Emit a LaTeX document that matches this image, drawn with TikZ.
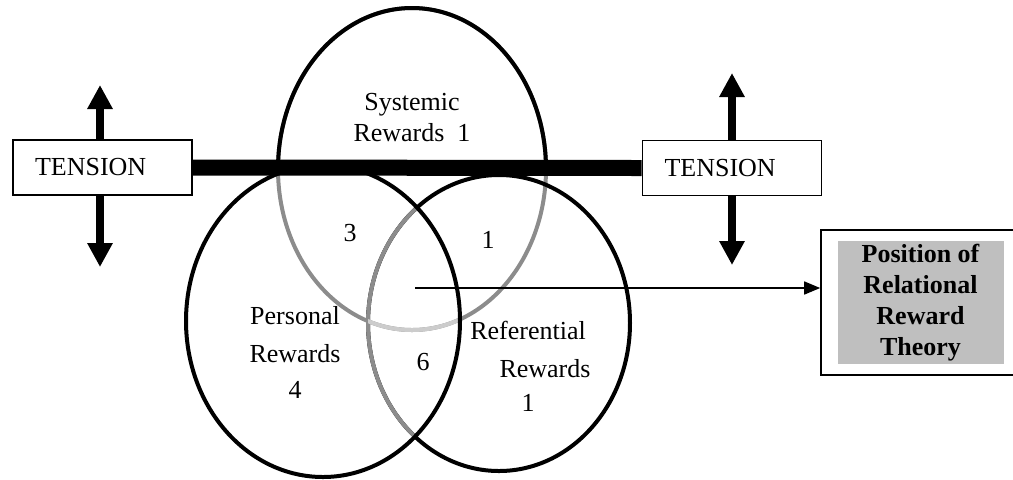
\documentclass[tikz,border=0pt]{standalone}
\usepackage{fontspec}
\setmainfont{Liberation Serif}
\usetikzlibrary{arrows.meta}

\begin{document}
\begin{tikzpicture}[x=0.5pt,y=-0.5pt,
  ring/.style={line width=2pt},
  txt/.style={font=\fontsize{13}{15}\selectfont, inner sep=0pt},
  tensionbox/.style={draw, line width=0.8pt, fill=white,
    font=\fontsize{13}{15}\selectfont, minimum height=27.5pt,
    text width=67.5pt, inner xsep=11pt, inner ysep=0pt, align=left},
  pull/.style={line width=4pt, -{Triangle[length=12pt,width=12pt]}},
  pointer/.style={line width=0.75pt, -{Triangle[length=8pt,width=6.5pt]}}]
\useasboundingbox (0,0) rectangle (1013,479);

% ellipse outlines
\def\sysE{(412,169) ellipse [x radius=134, y radius=161]}
\def\perE{(323,321) ellipse [x radius=137, y radius=156]}
\def\refE{(499,323) ellipse [x radius=131, y radius=148]}

% systemic rewards: grey below the bar, black above
\draw[ring, gray!90] \sysE;
\begin{scope}
  \clip (0,0) rectangle (1013,173);
  \draw[ring] \sysE;
\end{scope}

% referential rewards: grey where it lies inside the personal ellipse
\draw[ring] \refE;
\begin{scope}
  \clip \perE;
  \draw[ring, gray!90] \refE;
\end{scope}

% lighter stretch of the systemic arc in the personal/referential overlap
\begin{scope}
  \clip \perE;
  \clip \refE;
  \draw[ring, gray!40] \sysE;
\end{scope}

% personal rewards
\draw[ring] \perE;

% tension boxes joined by the heavy bar
\node[tensionbox] (tl) at (102.5,167.5) {TENSION};
\node[tensionbox] (tr) at (732,168) {TENSION};
\draw[line width=8pt] (tl.east) -- (tr.west);

\coordinate (tlup) at (100,85);
\coordinate (tldn) at (100,267);
\coordinate (trup) at (732,73);
\coordinate (trdn) at (732,265);
\draw[pull] (tl.north -| tlup) -- (tlup);
\draw[pull] (tl.south -| tldn) -- (tldn);
\draw[pull] (tr.north -| trup) -- (trup);
\draw[pull] (tr.south -| trdn) -- (trdn);

% region labels
\node[txt] (sys1) at (412,105) {Systemic};
\node[txt] (sys2) at (412,133) {Rewards\enspace 1};
\node[txt] (n3) at (350,233) {3};
\node[txt] (n1) at (488,240) {1};
\node[txt] (per1) at (295,316) {Personal};
\node[txt] (per2) at (295,354) {Rewards};
\node[txt] (per3) at (295,390) {4};
\node[txt] (n6) at (423,362) {6};
\node[txt] (ref1) at (528,330) {Referential};
\node[txt] (ref2) at (545,369) {Rewards};
\node[txt] (ref3) at (528,403) {1};

% relational reward theory box
\node[draw, line width=0.8pt, fill=white, minimum width=99.5pt,
      minimum height=72.5pt, inner sep=0pt] (posframe) at (920.5,302.5) {};
\node[fill=gray!50, minimum width=83pt, minimum height=61.5pt, inner sep=0pt,
      align=center, font=\fontsize{13}{15.4}\selectfont\bfseries]
      (pos) at (posframe.center) {Position of\\Relational\\Reward\\Theory};

\coordinate (relstart) at (415,288);
\draw[pointer] (relstart) -- (relstart -| posframe.west);
\end{tikzpicture}
\end{document}
